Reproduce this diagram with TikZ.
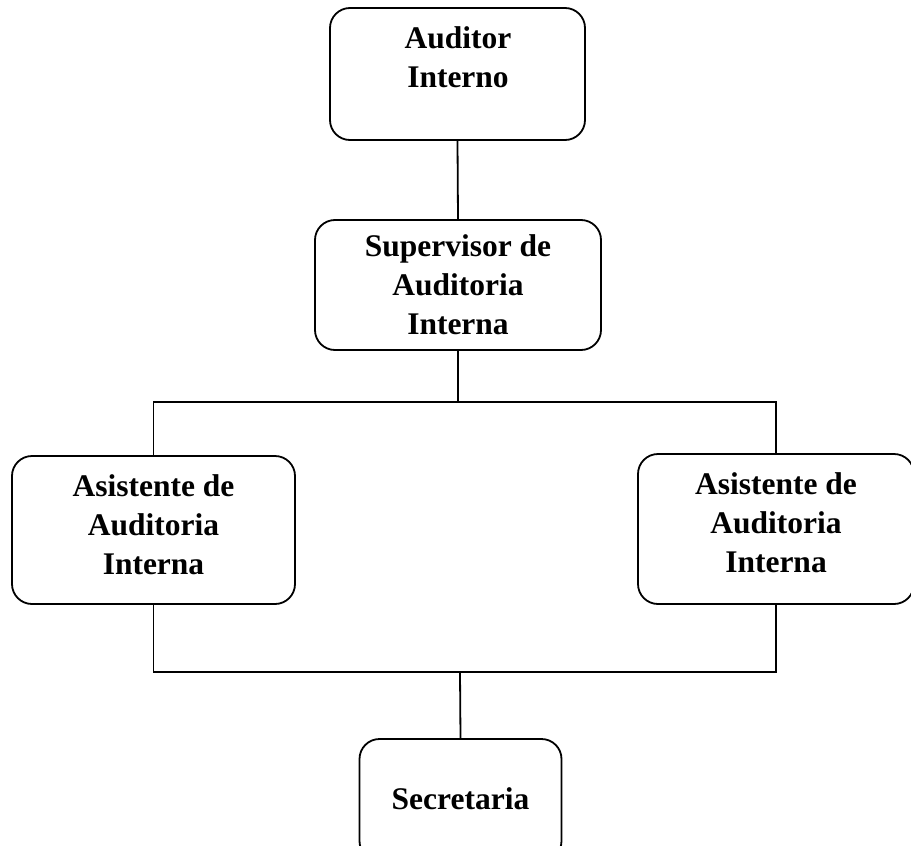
\documentclass[tikz,border=0pt]{standalone}
\usepackage{fontspec}
\setmainfont{Liberation Serif}
\begin{document}
\begin{tikzpicture}[x=1pt,y=-1pt,
  box/.style={draw, line width=1.8pt, rounded corners=20pt, inner sep=0pt},
  lbl/.style={font=\fontsize{31.5}{39}\selectfont\bfseries, align=center, inner sep=0pt},
  wire/.style={line width=1.8pt}]
\useasboundingbox (0,0) rectangle (911,846);

% boxes
\node[box, minimum width=255pt, minimum height=132pt] (aud) at (457.5,74) {};
\node[box, minimum width=286pt, minimum height=130pt] (sup) at (458,285) {};
\node[box, minimum width=283pt, minimum height=148pt] (la) at (153.5,530) {};
\node[box, minimum width=276pt, minimum height=150pt] (ra) at (776,529) {};
\node[box, minimum width=202pt, minimum height=122pt] (sec) at (460.5,800) {};

% labels
\node[lbl] (audt) at (458,57) {Auditor\\Interno};
\node[lbl] (supt) at (458,285) {Supervisor de\\Auditoria\\Interna};
\node[lbl] (lat) at (153.5,525) {Asistente de\\Auditoria\\Interna};
\node[lbl] (rat) at (776,523) {Asistente de\\Auditoria\\Interna};
\node[lbl] (sect) at (460.5,799) {Secretaria};

% connectors
\coordinate (j1) at (458,402);
\coordinate (j2) at (460,672);
\draw[wire] (aud.south) -- (sup.north);
\draw[wire] (sup.south) -- (j1);
\draw[wire] (la.north) |- (j1) -| (ra.north);
\draw[wire] (la.south) |- (j2) -| (ra.south);
\draw[wire] (j2) -- (sec.north);
\end{tikzpicture}
\end{document}
